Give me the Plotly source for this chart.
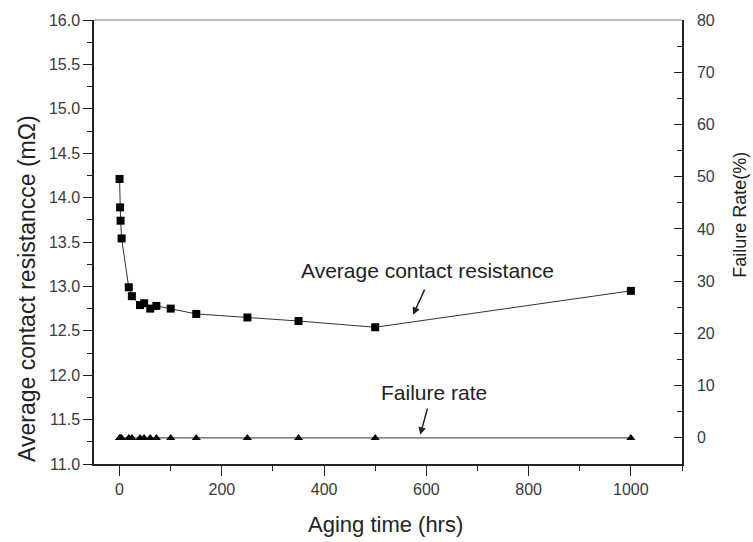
import plotly.graph_objects as go

# Data
aging_hours = [0, 1, 2, 4, 18, 24, 40, 48, 60, 72, 100, 150, 250, 350, 500, 1000]
avg_resistance = [14.21, 13.89, 13.74, 13.54, 12.99, 12.89, 12.79, 12.81, 12.75, 12.78,
                  12.75, 12.69, 12.65, 12.61, 12.54, 12.95]
failure_rate = [0, 0, 0, 0, 0, 0, 0, 0, 0, 0, 0, 0, 0, 0, 0, 0]

x_ticks = [0, 200, 400, 600, 800, 1000]
left_ticks = [11.0, 11.5, 12.0, 12.5, 13.0, 13.5, 14.0, 14.5, 15.0, 15.5, 16.0]
right_ticks = [0, 10, 20, 30, 40, 50, 60, 70, 80]

FONT = "Liberation Sans, Arial, sans-serif"
AX = "#222222"

fig = go.Figure()
fig.add_trace(go.Scatter(
    x=aging_hours, y=avg_resistance, mode="lines+markers",
    line=dict(color="#333333", width=1),
    marker=dict(symbol="square", size=8, color="black"),
    yaxis="y", showlegend=False))
fig.add_trace(go.Scatter(
    x=aging_hours, y=failure_rate, mode="lines+markers",
    line=dict(color="#333333", width=1),
    marker=dict(symbol="triangle-up", size=8, color="black"),
    yaxis="y2", showlegend=False))

fig.update_layout(
    width=753, height=542,
    margin=dict(l=94, r=71, t=20, b=78),
    paper_bgcolor="white", plot_bgcolor="white",
    font=dict(family=FONT, color="#3a3a3a", size=16),
    xaxis=dict(range=[-50, 1100], tickvals=x_ticks, ticks="outside", ticklen=10,
               tickwidth=1.3, tickcolor=AX, showline=True, linecolor=AX, linewidth=1.5,
               showgrid=False, zeroline=False, ticklabelstandoff=0,
               minor=dict(dtick=100, tick0=0, ticks="outside", ticklen=5, tickcolor=AX)),
    yaxis=dict(range=[11, 16], tickvals=left_ticks, tickformat=".1f", ticks="outside",
               ticklen=9, tickwidth=1.3, tickcolor=AX, showline=True, linecolor=AX,
               linewidth=1.5, showgrid=False, zeroline=False,
               minor=dict(dtick=0.25, tick0=11, ticks="outside", ticklen=5, tickcolor=AX)),
    yaxis2=dict(range=[-5, 80], tickvals=right_ticks, overlaying="y", side="right",
                ticks="inside", ticklen=8, tickwidth=1.3, tickcolor=AX, showline=True,
                linecolor=AX, linewidth=1.5, showgrid=False, zeroline=False,
                ticklabelstandoff=10,
                minor=dict(dtick=5, tick0=0, ticks="inside", ticklen=5, tickcolor=AX)),
    shapes=[dict(type="line", xref="paper", yref="paper", x0=0, x1=1, y0=1, y1=1,
                 line=dict(color="#aaaaaa", width=1.5))],
    annotations=[
        dict(text="Average contact resistance", x=603, y=13.18, xref="x", yref="y",
             xanchor="center", yanchor="middle",
             showarrow=False, font=dict(size=21, color="#222")),
        dict(text="", x=574, y=12.68, xref="x", yref="y", ax=598, ay=12.98,
             axref="x", ayref="y", showarrow=True, arrowhead=2, arrowsize=1,
             arrowwidth=1.5, arrowcolor="#222"),
        dict(text="Failure rate", x=615, y=8.6, xref="x", yref="y2",
             xanchor="center", yanchor="middle",
             showarrow=False, font=dict(size=21, color="#222")),
        dict(text="", x=588, y=0.6, xref="x", yref="y2", ax=603, ay=5.9,
             axref="x", ayref="y2", showarrow=True, arrowhead=2, arrowsize=1,
             arrowwidth=1.5, arrowcolor="#222"),
        dict(text="Aging time (hrs)", x=0.495, y=-0.137, xref="paper", yref="paper",
             xanchor="center", yanchor="middle",
             showarrow=False, font=dict(size=22, color="#222")),
        dict(text="Average contact resistancce (mΩ)", x=-0.115, y=0.395, xref="paper",
             yref="paper", textangle=-90, xanchor="center", yanchor="middle",
             showarrow=False, font=dict(size=23, color="#222")),
        dict(text="Failure Rate(%)", x=1.0985, y=0.561, xref="paper", yref="paper",
             textangle=-90, xanchor="center", yanchor="middle",
             showarrow=False, font=dict(size=18, color="#222")),
    ],
)

fig.write_html("out.html")
